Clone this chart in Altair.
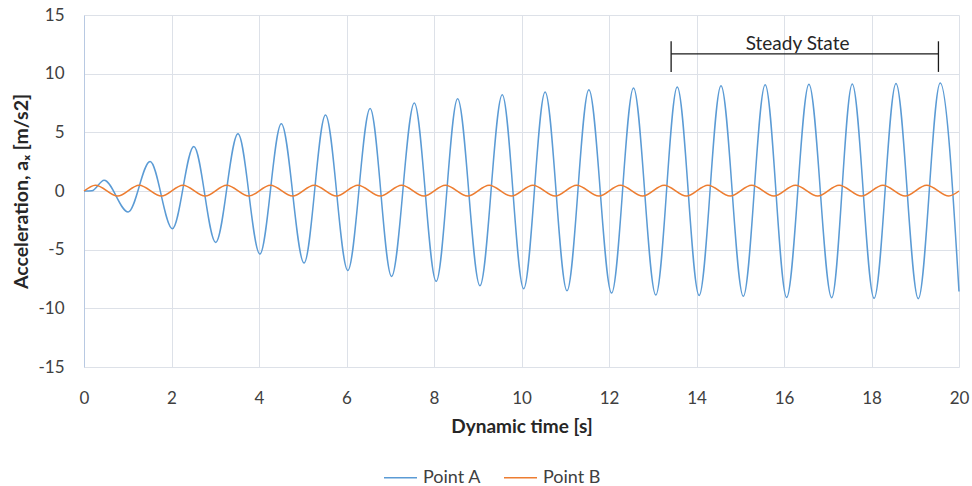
import altair as alt
import pandas as pd

# Turning points (time in s, acceleration in m/s2) of each response curve
time_a = [0.00, 0.18, 0.46, 1.01, 1.51, 2.02, 2.51, 3.01, 3.52, 4.02,
          4.51, 5.03, 5.52, 6.03, 6.54, 7.03, 7.55, 8.05, 8.54, 9.05,
          9.56, 10.05, 10.54, 11.04, 11.54, 12.06, 12.56, 13.07, 13.56, 14.06,
          14.56, 15.07, 15.57, 16.06, 16.57, 17.09, 17.56, 18.06, 18.56, 19.07,
          19.57, 20.00]
accel_a = [0.00, 0.02, 0.92, -1.79, 2.52, -3.21, 3.80, -4.38, 4.88, -5.37,
           5.74, -6.14, 6.48, -6.77, 7.03, -7.28, 7.50, -7.70, 7.87, -8.07,
           8.21, -8.33, 8.44, -8.50, 8.63, -8.70, 8.78, -8.87, 8.87, -8.90,
           8.98, -8.98, 9.06, -9.07, 9.10, -9.10, 9.12, -9.15, 9.16, -9.18,
           9.20, -8.56]

time_b = [0.00, 0.26, 0.77, 1.26, 1.77, 2.26, 2.77, 3.26, 3.77, 4.26,
          4.77, 5.26, 5.77, 6.26, 6.77, 7.26, 7.77, 8.26, 8.77, 9.26,
          9.77, 10.26, 10.77, 11.26, 11.77, 12.26, 12.77, 13.26, 13.77, 14.26,
          14.77, 15.26, 15.77, 16.26, 16.77, 17.26, 17.77, 18.26, 18.77, 19.26,
          19.77, 20.00]
accel_b = [0.00, 0.50, -0.42, 0.50, -0.42, 0.50, -0.42, 0.50, -0.42, 0.50,
           -0.42, 0.50, -0.42, 0.50, -0.42, 0.50, -0.42, 0.50, -0.42, 0.50,
           -0.42, 0.50, -0.42, 0.50, -0.42, 0.50, -0.42, 0.50, -0.42, 0.50,
           -0.42, 0.50, -0.42, 0.50, -0.42, 0.50, -0.42, 0.50, -0.42, 0.50,
           -0.42, 0.00]

series_names = ["Point A", "Point B"]
series_colors = ["#5B9BD5", "#ED7D31"]

x_ticks = [0, 2, 4, 6, 8, 10, 12, 14, 16, 18, 20]
y_ticks = [-15, -10, -5, 0, 5, 10, 15]

df = pd.concat([
    pd.DataFrame({"series": series_names[0], "t": time_a, "a": accel_a}),
    pd.DataFrame({"series": series_names[1], "t": time_b, "a": accel_b}),
], ignore_index=True)

FONT = "Lato"
GRID = "#DDE1E8"
PLAIN_LABEL = "toString(datum.value)"

x_enc = alt.X(
    "t:Q",
    scale=alt.Scale(domain=[0, 20], nice=False, zero=False),
    axis=alt.Axis(
        values=x_ticks, title="Dynamic time [s]", grid=True, gridColor=GRID,
        domain=False, ticks=False, labelPadding=23, labelFontSize=17,
        labelColor="#404040", labelFont=FONT, titleFont=FONT,
        labelFlush=False, labelExpr=PLAIN_LABEL,
        titleFontSize=19, titleFontWeight="bold", titleColor="#262626",
        titlePadding=11,
    ),
)
y_enc = alt.Y(
    "a:Q",
    scale=alt.Scale(domain=[-15, 15], nice=False),
    axis=alt.Axis(
        values=y_ticks, title="Acceleration, aₓ [m/s2]", grid=True,
        gridColor=GRID, domain=True, domainColor="#B8C9E2", ticks=False,
        labelPadding=20, labelFontSize=17, labelColor="#404040",
        labelFlush=False, labelExpr=PLAIN_LABEL,
        labelFont=FONT, titleFont=FONT, titleFontSize=19.5,
        titleFontWeight="bold", titleColor="#262626", titlePadding=6,
    ),
)

lines = alt.Chart(df).mark_line(strokeWidth=1.5, interpolate="monotone").encode(
    x=x_enc,
    y=y_enc,
    color=alt.Color(
        "series:N",
        scale=alt.Scale(domain=series_names, range=series_colors),
        legend=alt.Legend(
            title=None, orient="none", direction="horizontal",
            legendX=299, legendY=445, symbolType="stroke",
            symbolSize=1089, symbolStrokeWidth=1.5, labelFont=FONT,
            labelFontSize=18, labelColor="#404040", labelOffset=5,
            columnPadding=19,
        ),
    ),
    detail="series:N",
)

# "Steady State" bracket
span_start, span_end, span_level = 13.42, 19.53, 11.68
bracket_h = alt.Chart().mark_rule(color="#1A1A1A", strokeWidth=1.3).encode(
    x=alt.datum(span_start), x2=alt.datum(span_end), y=alt.datum(span_level)
)
bracket_l = alt.Chart().mark_rule(color="#1A1A1A", strokeWidth=1.3).encode(
    x=alt.datum(span_start), y=alt.datum(12.76), y2=alt.datum(10.15)
)
bracket_r = alt.Chart().mark_rule(color="#1A1A1A", strokeWidth=1.3).encode(
    x=alt.datum(span_end), y=alt.datum(12.76), y2=alt.datum(10.15)
)
label = alt.Chart().mark_text(
    text="Steady State", font=FONT, fontSize=19, color="#262626",
    align="center", baseline="alphabetic",
).encode(x=alt.datum(16.31), y=alt.datum(12.05))

chart = alt.layer(lines, bracket_h, bracket_l, bracket_r, label).properties(
    width=875, height=352,
    autosize=alt.AutoSizeParams(type="none"),
    padding={"left": 84, "top": 15, "right": 13, "bottom": 119},
    background="white",
).configure_view(stroke=None)

chart.save("out.html", embed_options={"renderer": "svg", "actions": False})
